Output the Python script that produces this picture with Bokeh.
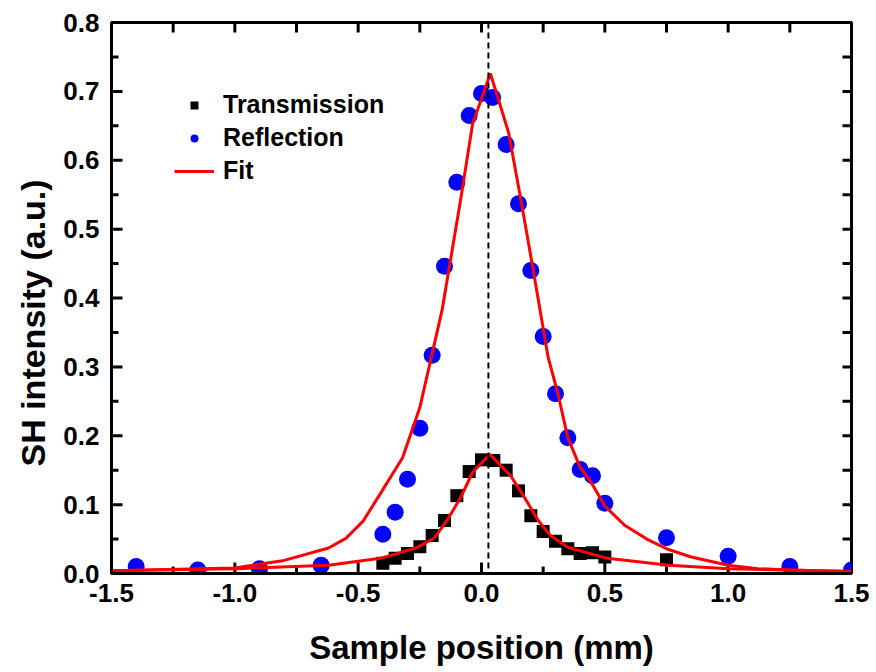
import math
from bokeh.plotting import figure
from bokeh.models import (Range1d, LinearAxis, FixedTicker, PrintfTickFormatter,
                          Span, Legend, LegendItem, ColumnDataSource, Title)
from bokeh.embed import file_html
from bokeh.resources import INLINE

# ---- data ----
refl_x = [-1.4, -1.15, -0.9, -0.65, -0.4, -0.35, -0.3, -0.25, -0.2, -0.15, -0.1, -0.05,
          0.0, 0.045, 0.1, 0.15, 0.2, 0.25, 0.3, 0.35, 0.4, 0.45, 0.5, 0.75, 1.0, 1.25, 1.5]
refl_y = [0.010, 0.005, 0.007, 0.012, 0.057, 0.089, 0.137, 0.211, 0.317, 0.446, 0.568, 0.665,
          0.697, 0.691, 0.623, 0.537, 0.440, 0.344, 0.261, 0.197, 0.151, 0.142, 0.102, 0.052,
          0.025, 0.010, 0.005]

trans_x = [-0.4, -0.35, -0.3, -0.25, -0.2, -0.15, -0.1, -0.05, 0.0, 0.05, 0.1, 0.15,
           0.2, 0.25, 0.3, 0.35, 0.4, 0.45, 0.5, 0.75]
trans_y = [0.015, 0.022, 0.029, 0.039, 0.055, 0.077, 0.113, 0.148, 0.165, 0.164, 0.150, 0.120,
           0.084, 0.061, 0.047, 0.036, 0.029, 0.030, 0.024, 0.020]

refl_fit_x = [-1.5, -1.0, -0.8, -0.62, -0.55, -0.48, -0.41, -0.32, -0.25, -0.16, -0.085, -0.036,
              0.036, 0.11, 0.16, 0.21, 0.27, 0.31, 0.35, 0.40, 0.44, 0.50, 0.58, 0.67, 0.75,
              0.85, 1.0, 1.12, 1.25, 1.5]
refl_fit_y = [0.004, 0.008, 0.019, 0.037, 0.051, 0.076, 0.116, 0.168, 0.241, 0.382, 0.542, 0.653,
              0.726, 0.640, 0.542, 0.440, 0.314, 0.261, 0.197, 0.154, 0.135, 0.098, 0.070, 0.050,
              0.036, 0.024, 0.012, 0.007, 0.005, 0.003]

trans_fit_x = [-1.5, -1.0, -0.62, -0.41, -0.34, -0.26, -0.19, -0.14, -0.085, -0.036, 0.034,
               0.118, 0.17, 0.23, 0.28, 0.35, 0.51, 0.76, 1.0, 1.5]
trans_fit_y = [0.004, 0.007, 0.012, 0.022, 0.029, 0.038, 0.052, 0.077, 0.110, 0.147, 0.173,
               0.142, 0.113, 0.077, 0.055, 0.038, 0.022, 0.012, 0.007, 0.003]

peak_center = 0.028

# tick positions
x_major = [-1.5, -1.0, -0.5, 0.0, 0.5, 1.0, 1.5]
x_minor = [-1.25, -0.75, -0.25, 0.25, 0.75, 1.25]
y_major = [0.0, 0.1, 0.2, 0.3, 0.4, 0.5, 0.6, 0.7, 0.8]
y_minor = [0.05, 0.15, 0.25, 0.35, 0.45, 0.55, 0.65, 0.75]
x_lo, x_hi = -1.5, 1.5
y_lo, y_hi = 0.0, 0.8

x_label = "Sample position (mm)"
y_label = "SH intensity (a.u.)"
series_names = ["Transmission", "Reflection", "Fit"]

FONT = "Liberation Sans"

p = figure(width=876, height=672, output_backend="svg", toolbar_location=None,
           x_range=Range1d(x_lo, x_hi), y_range=Range1d(y_lo, y_hi),
           x_axis_type=None, y_axis_type=None,
           min_border_left=111, min_border_right=25, min_border_top=22, min_border_bottom=99)
p.background_fill_color = "white"
p.border_fill_color = "white"
p.xgrid.visible = False
p.ygrid.visible = False
p.outline_line_color = "black"
p.outline_line_width = 3

def style_axis(ax):
    ax.axis_line_width = 3
    ax.axis_line_color = "black"
    ax.major_tick_in = 0
    ax.major_tick_out = 0
    ax.minor_tick_in = 0
    ax.minor_tick_out = 0
    ax.major_label_text_font = FONT
    ax.major_label_text_font_style = "bold"
    ax.major_label_text_font_size = "26px"
    ax.major_label_text_color = "black"
    ax.axis_label_text_font = FONT
    ax.axis_label_text_font_style = "bold"
    ax.axis_label_text_color = "black"

xb = LinearAxis(ticker=FixedTicker(ticks=x_major, minor_ticks=x_minor),
                formatter=PrintfTickFormatter(format="%.1f"), axis_label=x_label)
style_axis(xb)
xb.axis_label_text_font_size = "33px"
xb.major_label_standoff = 10
xb.axis_label_standoff = 24
p.add_layout(xb, "below")

yl = LinearAxis(ticker=FixedTicker(ticks=y_major, minor_ticks=y_minor),
                formatter=PrintfTickFormatter(format="%.1f"))
style_axis(yl)
yl.major_label_standoff = 12
p.add_layout(yl, "left")

ytitle = Title(text=y_label, align="left", offset=107, standoff=18,
               text_font=FONT, text_font_style="bold", text_font_size="34px",
               text_color="black")
p.add_layout(ytitle, "left")

# inward ticks on all four sides (positioned through the plot's scales)
tick_kw = dict(line_color="black", line_width=3, length_units="screen")
p.ray(x=x_major, y=[y_lo] * len(x_major), length=11, angle=math.pi / 2, **tick_kw)
p.ray(x=x_minor, y=[y_lo] * len(x_minor), length=7, angle=math.pi / 2, **tick_kw)
p.ray(x=x_major, y=[y_hi] * len(x_major), length=10, angle=-math.pi / 2, **tick_kw)
p.ray(x=x_minor, y=[y_hi] * len(x_minor), length=10, angle=-math.pi / 2, **tick_kw)
p.ray(x=[x_lo] * len(y_major), y=y_major, length=11, angle=0, **tick_kw)
p.ray(x=[x_lo] * len(y_minor), y=y_minor, length=7, angle=0, **tick_kw)
p.ray(x=[x_hi] * len(y_major), y=y_major, length=9, angle=math.pi, **tick_kw)
p.ray(x=[x_hi] * len(y_minor), y=y_minor, length=9, angle=math.pi, **tick_kw)

p.add_layout(Span(location=peak_center, dimension="height", line_color="black",
                  line_dash="6 4", line_width=2))

tsrc = ColumnDataSource(dict(x=trans_x, y=trans_y))
rsrc = ColumnDataSource(dict(x=refl_x, y=refl_y))
r_t = p.scatter("x", "y", source=tsrc, marker="square", size=13, fill_color="black",
                line_color="black", line_width=0)
r_r = p.scatter("x", "y", source=rsrc, marker="circle", size=17, fill_color="#0000ff",
                line_color="#0000ff", line_width=0)
r_fr = p.line(refl_fit_x, refl_fit_y, line_color="#ff0000", line_width=3)
r_ft = p.line(trans_fit_x, trans_fit_y, line_color="#ff0000", line_width=3)

legend = Legend(items=[LegendItem(label=series_names[0], renderers=[r_t]),
                       LegendItem(label=series_names[1], renderers=[r_r]),
                       LegendItem(label=series_names[2], renderers=[r_fr])],
                location=(63, 388))
legend.background_fill_alpha = 0
legend.border_line_color = None
legend.padding = 0
legend.margin = 0
legend.spacing = 4
legend.glyph_width = 40
legend.glyph_height = 20
legend.label_height = 20
legend.label_standoff = 9
legend.label_text_font = FONT
legend.label_text_font_style = "bold"
legend.label_text_font_size = "25px"
legend.label_text_color = "black"
p.add_layout(legend)

open("out.html", "w").write(file_html(p, INLINE))
